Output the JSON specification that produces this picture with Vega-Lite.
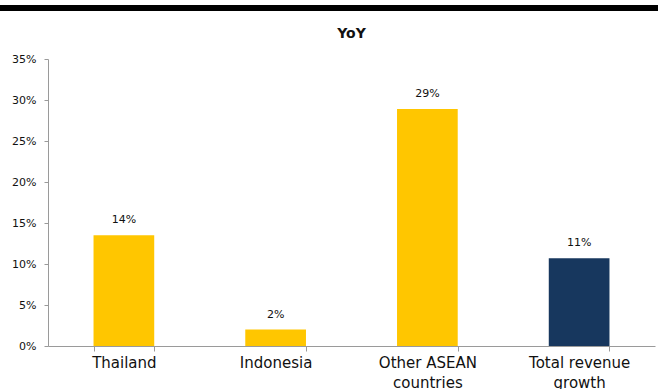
{
  "$schema": "https://vega.github.io/schema/vega-lite/v6.json",
  "background": "white",
  "padding": {"left": 0, "top": 5, "right": 0, "bottom": 0},
  "spacing": 16,
  "config": {
    "view": {"stroke": null},
    "font": "DejaVu Sans"
  },
  "datasets": {
    "rows": [
      {"region": "Thailand", "growth": 0.135, "label": "14%", "kind": "country"},
      {"region": "Indonesia", "growth": 0.020, "label": "2%", "kind": "country"},
      {"region": "Other ASEAN countries", "growth": 0.289, "label": "29%", "kind": "country"},
      {"region": "Total revenue growth", "growth": 0.107, "label": "11%", "kind": "total"}
    ],
    "frame": [{"a": 0, "b": 1}]
  },
  "vconcat": [
    {
      "width": 607,
      "height": 6,
      "data": {"name": "frame"},
      "mark": {"type": "rect", "color": "black"},
      "encoding": {
        "x": {"field": "a", "type": "quantitative", "scale": {"domain": [0, 1], "range": [-48, 610], "nice": false, "zero": false}, "axis": null},
        "x2": {"field": "b"},
        "y": {"field": "a", "type": "quantitative", "scale": {"domain": [0, 1], "nice": false}, "axis": null},
        "y2": {"field": "b"}
      }
    },
    {
      "width": 607,
      "height": 287,
      "title": {"text": "YoY", "fontSize": 14, "fontWeight": "bold", "font": "DejaVu Sans", "color": "#111", "anchor": "middle", "offset": 12},
      "data": {"name": "rows"},
      "encoding": {
        "x": {
          "field": "region", "type": "nominal", "sort": null,
          "scale": {"paddingInner": 0.6, "paddingOuter": 0.3},
          "axis": {
            "title": null, "labelAngle": 0, "labelFontSize": 15, "labelColor": "#111",
            "labelPadding": 4, "labelLineHeight": 20,
            "tickBand": "extent", "tickSize": 5, "tickColor": "#9a9a9a", "domainColor": "#9a9a9a",
            "labelExpr": "datum.value == 'Other ASEAN countries' ? ['Other ASEAN', 'countries'] : datum.value == 'Total revenue growth' ? ['Total revenue', 'growth'] : datum.value"
          }
        },
        "y": {
          "field": "growth", "type": "quantitative",
          "scale": {"domain": [0, 0.35], "nice": false},
          "axis": {
            "title": null, "format": ".0%", "values": [0, 0.05, 0.1, 0.15, 0.2, 0.25, 0.3, 0.35],
            "grid": false, "labelFontSize": 11, "labelColor": "#111", "labelPadding": 8,
            "tickSize": 4, "tickColor": "#9a9a9a", "domainColor": "#9a9a9a", "minExtent": 48
          }
        }
      },
      "layer": [
        {
          "mark": {"type": "bar"},
          "encoding": {
            "color": {"field": "kind", "type": "nominal", "scale": {"domain": ["country", "total"], "range": ["#FFC600", "#17375E"]}, "legend": null}
          }
        },
        {
          "mark": {"type": "text", "baseline": "bottom", "dy": -10, "fontSize": 11, "color": "#111"},
          "encoding": {"text": {"field": "label"}}
        }
      ]
    }
  ]
}
